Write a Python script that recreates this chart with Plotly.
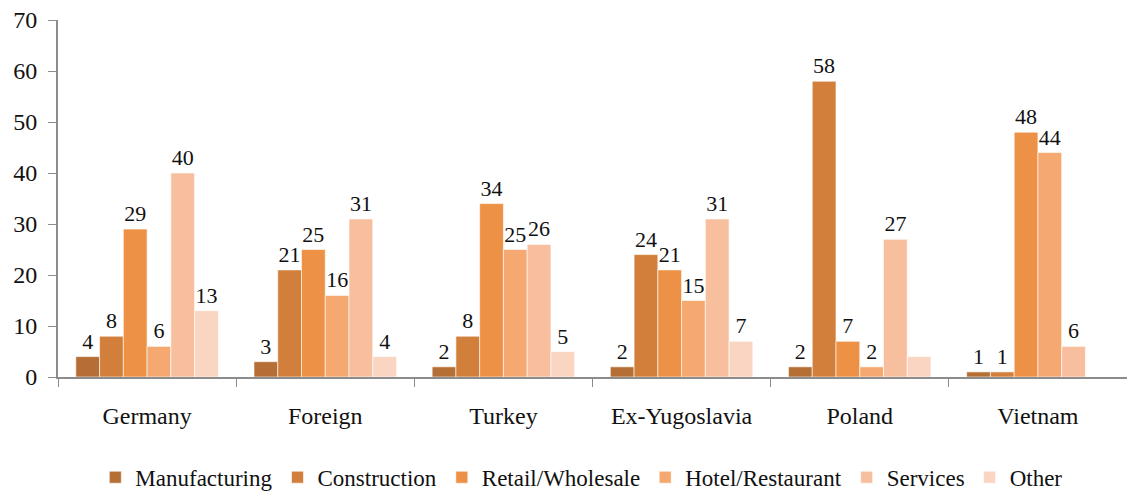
import plotly.graph_objects as go

categories = ["Germany", "Foreign", "Turkey", "Ex-Yugoslavia", "Poland", "Vietnam"]
series_names = ["Manufacturing", "Construction", "Retail/Wholesale", "Hotel/Restaurant", "Services", "Other"]

manufacturing = [4, 3, 2, 2, 2, 1]
construction = [8, 21, 8, 24, 58, 1]
retail = [29, 25, 34, 21, 7, 48]
hotel = [6, 16, 25, 15, 2, 44]
services = [40, 31, 26, 31, 27, 6]
other = [13, 4, 5, 7, 4, 0]

# which value labels are shown in the original (Poland "Other" and Vietnam "Other" have none)
show_other = [True, True, True, True, False, False]

colors = ["#B56E34", "#D27F3B", "#EC9145", "#F5A86F", "#F8BF9F", "#FAD5C2"]

series_values = [manufacturing, construction, retail, hotel, services, other]
series_show = [[True] * 6] * 5 + [show_other]

FONT = "Liberation Serif"

fig = go.Figure()
for name, vals, shows, col in zip(series_names, series_values, series_show, colors):
    fig.add_trace(go.Bar(
        x=categories, y=vals, name=name,
        marker=dict(color=col, line=dict(color="rgba(255,255,255,0.6)", width=1)),
        text=[str(v) if s else "" for v, s in zip(vals, shows)],
        textposition="outside",
        textfont=dict(family=FONT, size=22, color="#111"),
        constraintext="none",
        cliponaxis=False,
    ))

fig.update_layout(
    width=1127, height=491,
    margin=dict(l=58, r=0, t=20, b=114),
    barmode="group", bargap=0.2, bargroupgap=0,
    plot_bgcolor="white", paper_bgcolor="white",
    font=dict(family=FONT, size=22, color="#111"),
    showlegend=True,
    legend=dict(orientation="h", x=0.49, xanchor="center",
                yref="container", y=0.028, yanchor="middle",
                font=dict(family=FONT, size=23, color="#111"),
                itemwidth=30, tracegroupgap=0),
    xaxis=dict(showline=True, linecolor="#8c8c8c", linewidth=2,
               tickson="boundaries", ticks="outside", ticklen=8, tickcolor="#8c8c8c",
               tickfont=dict(family=FONT, size=24, color="#111"),
               ticklabelstandoff=16, showgrid=False, automargin=False),
    yaxis=dict(range=[0, 70], dtick=10, showline=True, linecolor="#8c8c8c", linewidth=2,
               ticks="outside", ticklen=8, tickcolor="#8c8c8c", showgrid=False,
               tickfont=dict(family=FONT, size=24, color="#111"), zeroline=False,
               ticklabelstandoff=6, automargin=False),
)

fig.write_html("out.html", config={"displayModeBar": False},
               post_script="document.body.style.margin='0';document.body.style.overflow='hidden';")
